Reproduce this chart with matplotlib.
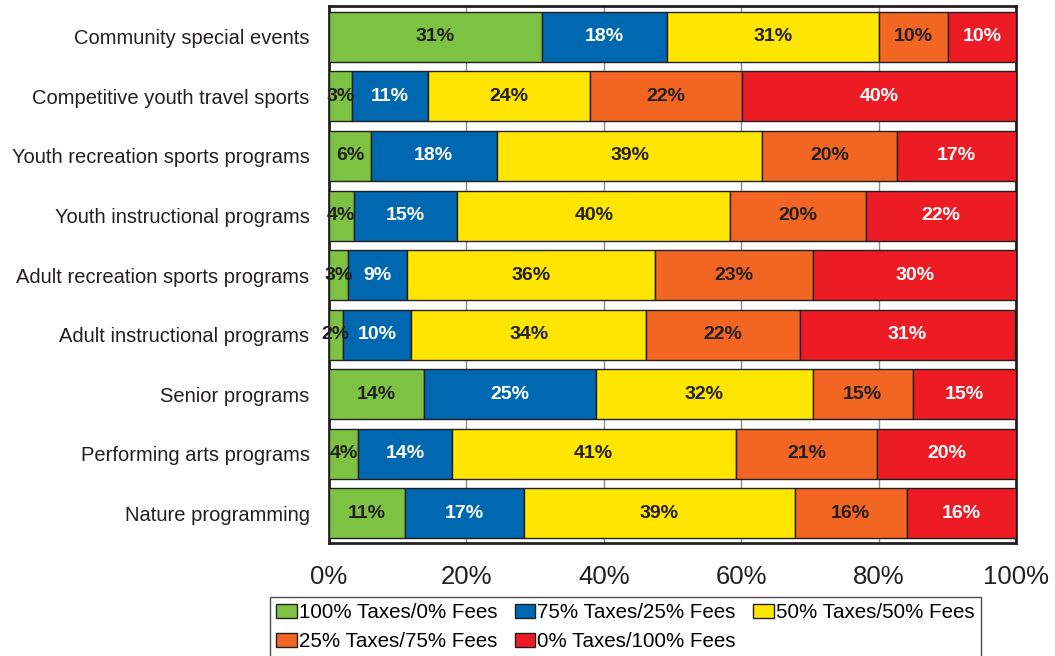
import matplotlib
matplotlib.use("Agg")
import matplotlib.pyplot as plt
import numpy as np

plt.rcParams['font.family'] = ['Liberation Sans', 'DejaVu Sans']

categories = ["Community special events", "Competitive youth travel sports",
              "Youth recreation sports programs", "Youth instructional programs",
              "Adult recreation sports programs", "Adult instructional programs",
              "Senior programs", "Performing arts programs", "Nature programming"]
series = ["100% Taxes/0% Fees", "75% Taxes/25% Fees", "50% Taxes/50% Fees",
          "25% Taxes/75% Fees", "0% Taxes/100% Fees"]

# percent of respondents per category (rows follow categories)
taxes100 = [31.0, 3.3, 6.1, 3.6, 2.8, 2.0, 13.8, 4.2, 11.1]
taxes75 = [18.2, 11.1, 18.3, 15.1, 8.6, 10.0, 25.0, 13.7, 17.3]
taxes50 = [30.9, 23.6, 38.7, 39.7, 36.1, 34.2, 31.6, 41.3, 39.4]
taxes25 = [10.0, 22.1, 19.6, 19.8, 23.0, 22.3, 14.6, 20.6, 16.3]
taxes0 = [9.9, 40.0, 17.3, 21.8, 29.6, 31.4, 15.0, 20.2, 15.9]

colors = ["#7dc243", "#0067b1", "#ffe600", "#f26522", "#ed1c24"]
text_colors = ["#231f20", "white", "#231f20", "#231f20", "white"]

fig = plt.figure(figsize=(10.55, 6.56), dpi=100)
ax = fig.add_axes([0.3118, 0.1723, 0.6512, 0.8186])

y = np.arange(len(categories))
left = np.zeros(len(categories))
handles = []
for vals, name, c, tc in zip([taxes100, taxes75, taxes50, taxes25, taxes0], series, colors, text_colors):
    vals = np.array(vals)
    bars = ax.barh(y, vals, left=left, height=0.84, color=c, edgecolor="#231f20",
                   linewidth=1, label=name, zorder=3)
    handles.append(bars)
    for b, v in zip(bars, vals):
        ax.text(b.get_x() + b.get_width() / 2, b.get_y() + b.get_height() / 2,
                f"{v:.0f}%", ha="center", va="center", color=tc,
                fontsize=14, fontweight="bold", zorder=4)
    left += vals

ax.set_xlim(0, 100)
ax.set_ylim(len(categories) - 0.5, -0.52)
ax.set_yticks(y)
ax.set_yticklabels(categories, fontsize=14.5, color="#231f20")
ax.set_xticks([0, 20, 40, 60, 80, 100])
ax.set_xticklabels(["0%", "20%", "40%", "60%", "80%", "100%"], fontsize=18.5, color="#231f20")
ax.tick_params(axis="both", length=0)
ax.tick_params(axis="x", pad=16)
ax.tick_params(axis="y", pad=14)
ax.xaxis.grid(True, color="#8c8c8c", linewidth=1, zorder=0)
ax.set_axisbelow(True)
for s in ax.spines.values():
    s.set_linewidth(2)
    s.set_color("#231f20")

# row-major legend order
order = [0, 3, 1, 4, 2]
leg = fig.legend([handles[i] for i in order], [series[i] for i in order],
                 loc="upper left", bbox_to_anchor=(0.256, 0.09), ncol=3,
                 fontsize=14.8, frameon=True, fancybox=False, edgecolor="#231f20",
                 handlelength=1.0, handleheight=0.65, handletextpad=0.1,
                 columnspacing=0.85, borderpad=0.3, labelspacing=0.5, borderaxespad=0)
leg.get_frame().set_linewidth(1)

fig.savefig("out.png", dpi=100)
